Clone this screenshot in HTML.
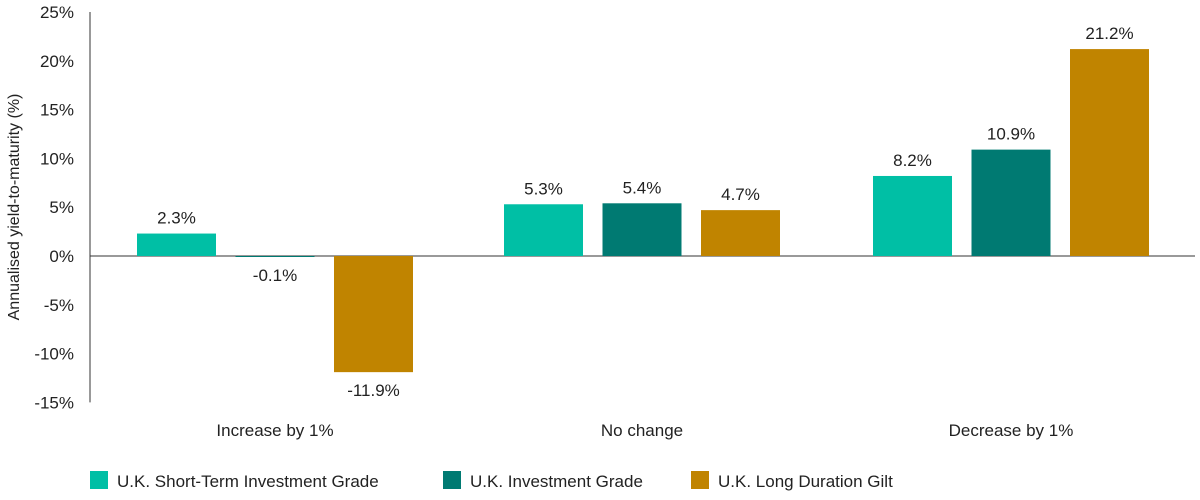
<!DOCTYPE html>
<html><head><meta charset="utf-8"><style>
body{margin:0;background:#fff;font-family:"Liberation Sans",sans-serif;}
svg text{font-family:"Liberation Sans",sans-serif;fill:#222;}
</style></head><body>
<svg id="chart" width="1200" height="495" xmlns="http://www.w3.org/2000/svg">
<g id="axes"></g><g id="bars"></g>
<g>
<rect x="90" y="471" width="18" height="18" fill="#00bfa5"/>
<text x="117" y="487" font-size="17">U.K. Short-Term Investment Grade</text>
<rect x="443" y="471" width="18" height="18" fill="#007a72"/>
<text x="470" y="487" font-size="17">U.K. Investment Grade</text>
<rect x="691" y="471" width="18" height="18" fill="#c08400"/>
<text x="718" y="487" font-size="17">U.K. Long Duration Gilt</text>
</g>
<text transform="translate(19,207) rotate(-90)" text-anchor="middle" font-size="16">Annualised yield-to-maturity (%)</text>
</svg>
<script>
const categories=["Increase by 1%","No change","Decrease by 1%"];
const shortTerm=[2.3,5.3,8.2];
const investmentGrade=[-0.1,5.4,10.9];
const longGilt=[-11.9,4.7,21.2];
const yTicks=[25,20,15,10,5,0,-5,-10,-15];
const ns="http://www.w3.org/2000/svg";
const y0=256, pxPer=9.76;
function y(v){return y0 - v*pxPer;}
const groupCenters=[275,642,1011];
function gx(i){return groupCenters[i];}
const axes=document.getElementById('axes');
const bars=document.getElementById('bars');
function mk(tag,attrs,parent){const e=document.createElementNS(ns,tag);for(const k in attrs)e.setAttribute(k,attrs[k]);parent.appendChild(e);return e;}
const yl=mk('line',{x1:90,x2:90,y1:y(25),y2:y(-15),stroke:'#333','stroke-width':1},axes);


yTicks.forEach(t=>{
 const tx=mk('text',{x:74,y:y(t)+6,'text-anchor':'end','font-size':17},axes);
 
 
 tx.textContent=t+'%';
});
const zl=mk('line',{x1:90,x2:1195,y1:y(0),y2:y(0),stroke:'#333','stroke-width':1},axes);


categories.forEach((c,i)=>{
 const tx=mk('text',{x:gx(i),y:436,'text-anchor':'middle','font-size':17},axes);
 
 
 tx.textContent=c;
});
const series=[[shortTerm,'#00bfa5','short-term'],[investmentGrade,'#007a72','investment-grade'],[longGilt,'#c08400','long-gilt']];
const bw=79, step=98.5;
series.forEach((s,si)=>{
 s[0].forEach((v,i)=>{
  const cx=gx(i)+(si-1)*step;
  const top=Math.min(y(v),y(0)), h=Math.max(Math.abs(y(v)-y(0)),1);
  const r=mk('rect',{x:cx-bw/2,y:top,width:bw,height:h,fill:s[1]},bars);
  
  
  const ly=v>=0?y(v)-10:y(v)+24;
  const t=mk('text',{x:cx,y:ly,'text-anchor':'middle','font-size':17},bars);
  
  
  t.textContent=v.toFixed(1)+'%';
 });
});
</script>
</body></html>
